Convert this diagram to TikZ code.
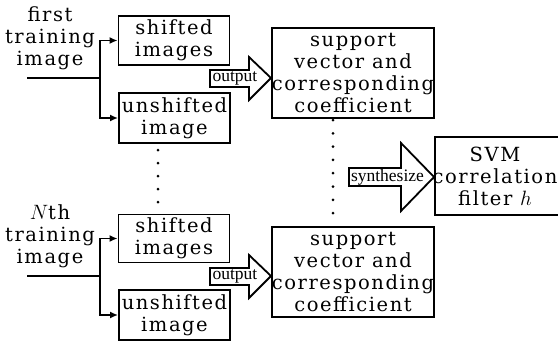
\documentclass[tikz,border=0pt]{standalone}
\usepackage{fontspec}
\setmainfont{DejaVu Serif}[LetterSpace=8]
\newfontfamily\tagfont{Liberation Serif}
\usetikzlibrary{positioning,arrows.meta,calc}

\begin{document}
\begin{tikzpicture}[x=1pt,y=-1pt,line width=1.7pt,
  box/.style={rectangle,draw=black,line width=1.9pt,align=center,inner sep=0pt,
    font=\fontsize{19.5}{22}\selectfont},
  lbl/.style={align=center,inner sep=0pt,font=\fontsize{19.5}{22}\selectfont},
  tag/.style={inner sep=0pt,font=\tagfont\fontsize{17.5}{17.5}\selectfont},
  blk/.style={draw=black,fill=white,line width=1.8pt,line join=miter},
  feed/.style={-{Latex[length=8pt,width=7pt]}}]
\useasboundingbox (0,0) rectangle (558,343);
% first training image
\node[lbl] (first) at (50,38) {first\\training\\image};
\coordinate (in1) at (27,78);
\coordinate (br1) at (100,78);
\node[box,minimum width=111,minimum height=49] (sh1) at (174,40.5) {shifted\\images};
\node[box,minimum width=111,minimum height=50] (us1) at (174.5,118) {unshifted\\image};
\draw (in1) -- (br1);
\draw[feed] (br1) |- (sh1.west);
\draw[feed] (br1) |- (us1.west);
\node[box,minimum width=162,minimum height=90] (sv1) at (353,73)
  {support\\vector and\\corresponding\\coefficient};
% Nth training image
\node[lbl] (nth) at (50,236) {$N$th\\training\\image};
\coordinate (in2) at (27,276);
\coordinate (br2) at (100,276);
\node[box,minimum width=111,minimum height=48] (sh2) at (174,238.5) {shifted\\images};
\node[box,minimum width=111,minimum height=50] (us2) at (174.5,315) {unshifted\\image};
\draw (in2) -- (br2);
\draw[feed] (br2) |- (sh2.west);
\draw[feed] (br2) |- (us2.west);
\node[box,minimum width=162,minimum height=90] (sv2) at (353,272)
  {support\\vector and\\corresponding\\coefficient};
% output arrows
\coordinate (o1) at (sv1.west |- br1);
\draw[blk] (o1) -- ++(-22,-21) -- ++(0,13) -- ++(-39,0) -- ++(0,17)
  -- ++(39,0) -- ++(0,13) -- cycle;
\node[tag] (out1) at ($(o1)+(-36,0.5)$) {output};
\coordinate (o2) at (sv2.west |- br2);
\draw[blk] (o2) -- ++(-22,-21) -- ++(0,13) -- ++(-39,0) -- ++(0,17)
  -- ++(39,0) -- ++(0,13) -- cycle;
\node[tag] (out2) at ($(o2)+(-36,0.5)$) {output};
% dots
\foreach \y in {150,163,176,189,202}
  \fill (158,\y) circle (1.5);
\foreach \i in {0,...,7}
  \fill (333,120+13.3*\i) circle (1.5);
% SVM filter
\node[draw=black,line width=1.9pt,minimum width=220,minimum height=78,
  anchor=west,inner sep=0pt] (svm) at (434,176) {};
\node[lbl] (svmtxt) at (495,176) {SVM\\correlation\\filter~$h$};
\coordinate (s1) at (svm.west |- 0,177);
\draw[blk] (s1) -- ++(-33,-34) -- ++(0,25) -- ++(-52,0) -- ++(0,18)
  -- ++(52,0) -- ++(0,25) -- cycle;
\node[tag] (syn) at ($(s1)+(-46.5,0)$) {synthesize};
\end{tikzpicture}
\end{document}
